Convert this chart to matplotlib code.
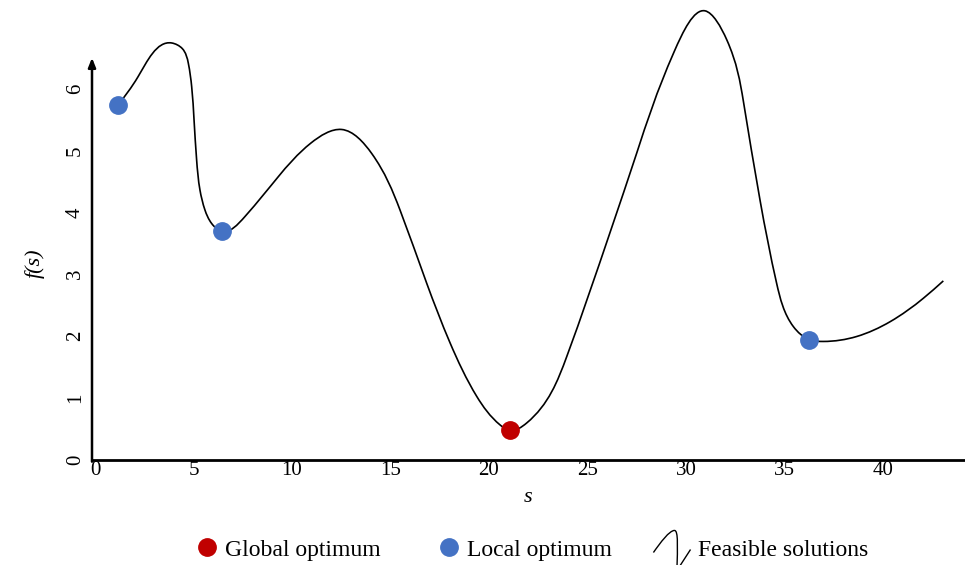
import numpy as np
import matplotlib.pyplot as plt
from matplotlib.path import Path
from matplotlib.patches import PathPatch
from matplotlib.lines import Line2D

plt.rcParams['font.family'] = ['Liberation Serif', 'DejaVu Serif']

# points read along the curve f(s)
s_vals = [1.18, 2.18, 3.89, 4.43, 4.74, 4.91, 5.03, 5.16, 5.33, 5.58, 5.92,
          6.43, 7.61, 9.29, 10.96, 12.52, 14.05, 15.48, 16.84, 18.02, 19.38,
          20.56, 21.07, 21.91, 23.94, 26.14, 27.50, 29.40, 30.96,
          32.07, 32.91, 33.76, 34.60, 35.45, 36.26, 36.97, 38.66, 40.36, 42.05,
          43.06]
f_vals = [5.74, 6.19, 6.74, 6.65, 6.41, 6.03, 5.49, 4.85, 4.36, 4.04, 3.82,
          3.69, 3.93, 4.57, 5.12, 5.34, 4.95, 4.04, 2.85, 1.89, 1.02,
          0.56, 0.47, 0.59, 1.66, 3.67, 4.96, 6.60, 7.26,
          6.79, 5.80, 4.19, 2.85, 2.15, 1.94, 1.91, 1.99, 2.23, 2.61,
          2.89]

# optima
local_s = [1.18, 6.43, 36.26]
local_f = [5.74, 3.69, 1.94]
global_s = [21.07]
global_f = [0.47]

x_ticks = [0, 5, 10, 15, 20, 25, 30, 35, 40]
y_ticks = [0, 1, 2, 3, 4, 5, 6]

blue = '#4472C4'
red = '#C00000'


def spline_slopes(t, v):
    # first derivatives of a natural cubic spline v(t) at the nodes
    n = len(t)
    h = np.diff(t)
    A = np.zeros((n, n))
    b = np.zeros(n)
    A[0, 0] = A[-1, -1] = 1
    for i in range(1, n - 1):
        A[i, i - 1] = h[i - 1]
        A[i, i] = 2 * (h[i - 1] + h[i])
        A[i, i + 1] = h[i]
        b[i] = 6 * ((v[i + 1] - v[i]) / h[i] - (v[i] - v[i - 1]) / h[i - 1])
    M = np.linalg.solve(A, b)
    m = np.zeros(n)
    m[:-1] = (v[1:] - v[:-1]) / h - h * (2 * M[:-1] + M[1:]) / 6
    m[-1] = (v[-1] - v[-2]) / h[-1] + h[-1] * (M[-2] + 2 * M[-1]) / 6
    return m


# smooth line through the points: parametric spline drawn as Bezier segments
def smooth_path(xs, ys, sx=19.7, sy=61.8):
    x = np.asarray(xs, float)
    y = np.asarray(ys, float)
    t = np.concatenate([[0], np.cumsum(np.hypot(np.diff(x) * sx, np.diff(y) * sy))])
    mx = spline_slopes(t, x)
    my = spline_slopes(t, y)
    h = np.diff(t)
    verts = [(x[0], y[0])]
    codes = [Path.MOVETO]
    for i in range(len(x) - 1):
        d = h[i] / 3
        verts += [(x[i] + mx[i] * d, y[i] + my[i] * d),
                  (x[i + 1] - mx[i + 1] * d, y[i + 1] - my[i + 1] * d),
                  (x[i + 1], y[i + 1])]
        codes += [Path.CURVE4] * 3
    return Path(verts, codes)


fig = plt.figure(figsize=(9.65, 5.65), dpi=100)
ax = fig.add_axes([92 / 965, 105.5 / 565, 873 / 965, 459.5 / 565])
ax.set_xlim(-0.15, 44.16)
ax.set_ylim(0, 7.435)

ax.add_patch(PathPatch(smooth_path(s_vals, f_vals), fill=False,
                       edgecolor='black', lw=1.2, clip_on=False, zorder=2))
ax.plot(local_s, local_f, 'o', color=blue, markersize=12.5, zorder=3, clip_on=False)
ax.plot(global_s, global_f, 'o', color=red, markersize=12.5, zorder=3, clip_on=False)

# axes: plain bottom line, left axis with an arrow
for side in ['top', 'right', 'left']:
    ax.spines[side].set_visible(False)
ax.spines['bottom'].set_linewidth(2)
ax.annotate('', xy=(-0.15, 6.5), xytext=(-0.15, -0.035),
            arrowprops=dict(arrowstyle='-|>,head_length=0.55,head_width=0.22',
                            lw=1.8, color='black', shrinkA=0, shrinkB=0),
            annotation_clip=False)

ax.set_xticks(x_ticks)
ax.set_yticks(y_ticks)
ax.set_yticklabels([str(v) for v in y_ticks], rotation=90, va='center')
ax.tick_params(length=0, labelsize=15)
ax.tick_params(axis='x', pad=1)
ax.tick_params(axis='y', pad=5)

ax.set_xlabel('s', fontstyle='italic', fontsize=16, labelpad=6)
ax.set_ylabel('f(s)', fontstyle='italic', fontsize=16)
ax.yaxis.label.set_va('center')
ax.yaxis.set_label_coords(-0.066, 0.428)

# legend; the wiggle glyph sits left of its handle centre
wave = Path([(-27, -5), (-20, 5), (-11, 17), (-6, 17),
             (-2, 17), (-3, 0), (-3.6, -23), (10, -2)],
            [Path.MOVETO, Path.CURVE4, Path.CURVE4, Path.CURVE4,
             Path.CURVE4, Path.CURVE4, Path.CURVE4, Path.LINETO])
handles = [
    Line2D([], [], marker='o', color=red, linestyle='none', markersize=12.5),
    Line2D([], [], marker='o', color=blue, linestyle='none', markersize=12.5),
    Line2D([], [], marker=wave, linestyle='none', markersize=39,
           markerfacecolor='none', markeredgecolor='black', markeredgewidth=1.0),
]
labels = ['Global optimum', 'Local optimum', 'Feasible solutions']
fig.legend(handles, labels, loc='center', bbox_to_anchor=(0.551, 0.027),
           ncol=3, frameon=False, fontsize=17, handlelength=1.0,
           handletextpad=0.25, columnspacing=2.4, numpoints=1)

fig.savefig('out.png', dpi=100)
